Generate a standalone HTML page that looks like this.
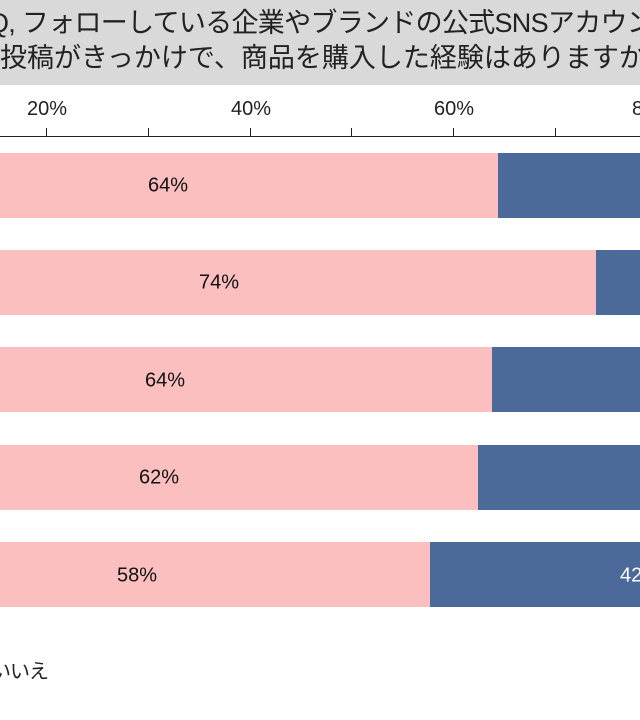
<!DOCTYPE html>
<html><head><meta charset="utf-8"><style>
body{margin:0;width:640px;height:720px;overflow:hidden;background:#fff;position:relative;font-family:"Liberation Sans","Noto Sans CJK JP",sans-serif;}
.t{position:absolute;white-space:nowrap;font-size:27px;color:#222;line-height:1;}
.band{position:absolute;left:0;top:0;width:640px;height:85px;background:#d9d9d9;}
.tick{position:absolute;top:128px;width:1px;height:9px;background:#222;}
.tl{position:absolute;top:98px;font-size:20px;color:#222;transform:translateX(-50%);}
.bar{position:absolute;left:0;height:65px;}
.p{background:#fbbfbf;}.b{background:#4c6a99;}
.lab{position:absolute;font-size:20px;color:#111;transform:translate(-50%,-50%);}
</style></head><body>
<div class="band"></div>
<div class="t" style="left:-12px;top:10px;letter-spacing:-0.7px">Q, フォローしている企業やブランドの公式SNSアカウント</div>
<div class="t" style="left:0px;top:45px;">投稿がきっかけで、商品を購入した経験はありますか</div>
<div style="position:absolute;left:0;top:136px;width:640px;height:1px;background:#222"></div>
<div class="tick" style="left:46px"></div><div class="tick" style="left:148px"></div>
<div class="tick" style="left:250px"></div><div class="tick" style="left:351px"></div>
<div class="tick" style="left:453px"></div><div class="tick" style="left:555px"></div>
<div class="tl" style="left:47px">20%</div><div class="tl" style="left:251px">40%</div>
<div class="tl" style="left:454px">60%</div><div class="tl" style="left:632px;transform:none">80%</div>

<div class="bar p" style="top:153px;width:498px"></div><div class="bar b" style="top:153px;left:498px;width:142px"></div>
<div class="lab" style="left:168px;top:186px">64%</div>
<div class="bar p" style="top:250px;width:596px"></div><div class="bar b" style="top:250px;left:596px;width:44px"></div>
<div class="lab" style="left:219px;top:283px">74%</div>
<div class="bar p" style="top:347px;width:492px"></div><div class="bar b" style="top:347px;left:492px;width:148px"></div>
<div class="lab" style="left:165px;top:381px">64%</div>
<div class="bar p" style="top:445px;width:478px"></div><div class="bar b" style="top:445px;left:478px;width:162px"></div>
<div class="lab" style="left:159px;top:478px">62%</div>
<div class="bar p" style="top:542px;width:430px"></div><div class="bar b" style="top:542px;left:430px;width:210px"></div>
<div class="lab" style="left:137px;top:576px">58%</div>
<div class="lab" style="left:620px;top:576px;color:#fff;transform:translateY(-50%)">42%</div>
<div style="position:absolute;left:-9px;top:655px;font-size:20px;color:#222;white-space:nowrap;letter-spacing:-1px">いいえ</div>
</body></html>
